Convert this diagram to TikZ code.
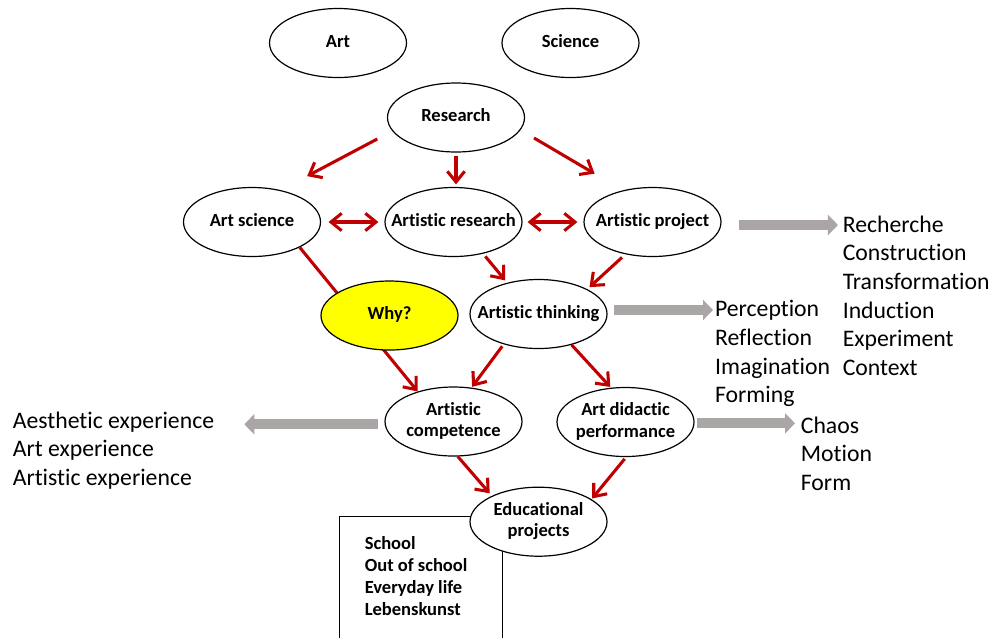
\documentclass[tikz,border=0pt]{standalone}
\usepackage{fontspec}
\setmainfont{Carlito}[Ligatures=NoCommon]
\usetikzlibrary{arrows.meta,shapes.geometric,calc}
\definecolor{darkred}{RGB}{192,0,0}
\definecolor{arrowgray}{RGB}{170,166,166}
\definecolor{whyyellow}{RGB}{255,255,0}
\newcommand{\etext}[1]{\makebox[0pt]{\begin{tabular}{@{}c@{}}#1\end{tabular}}}
\newcommand{\ltext}[1]{\begin{tabular}[t]{@{}l@{}}#1\end{tabular}}
\begin{document}
\begin{tikzpicture}[x=0.75pt,y=-0.75pt,
  ell/.style={ellipse, draw=black, line width=0.9pt, fill=white, minimum width=102.75pt, minimum height=51.75pt, inner sep=0pt, font=\bfseries\fontsize{13.9}{16.2}\selectfont},
  redarrow/.style={draw=darkred, line width=2.3pt, -{Straight Barb[length=8pt,width=13pt]}},
  redboth/.style={draw=darkred, line width=2.3pt, {Straight Barb[length=8pt,width=13pt]}-{Straight Barb[length=8pt,width=13pt]}},
  grayarrow/.style={draw=arrowgray, line width=7.5pt, -{Triangle[length=7.5pt,width=15pt]}},
  listtext/.style={font=\fontsize{17.8}{21.5}\selectfont, inner sep=0pt, anchor=base west},
]
\useasboundingbox (0,0) rectangle (995,637);

% box behind educational projects
\node[draw=black, line width=0.9pt, anchor=north west, minimum width=122.25pt, minimum height=99pt, inner sep=0pt] (box) at (339,516) {};
\node[anchor=base west, inner sep=0pt, font=\bfseries\fontsize{13.9}{16.6}\selectfont] (boxtext) at (364.5,549.3) {\ltext{School\\Out of school\\Everyday life\\Lebenskunst}};

% ellipses
\node[ell] (art) at (338,43) {\etext{Art}};
\node[ell] (science) at (570.5,43) {\etext{Science}};
\node[ell] (research) at (456,117.5) {\etext{Research}};
\node[ell] (artsci) at (252,222) {\etext{Art science}};
\node[ell] (artres) at (453.5,222) {\etext{Artistic research}};
\node[ell] (project) at (652.5,222) {\etext{Artistic project}};
\node[ell] (thinking) at (538.5,314) {\etext{Artistic thinking}};
\node[ell] (competence) at (453.5,421.5) {\etext{Artistic\\competence}};
\node[ell] (didactic) at (625.5,422) {\etext{Art didactic\\performance}};
\node[ell] (edu) at (538.5,521.7) {\etext{Educational\\projects}};

% text lists
\node[listtext] (list1) at (842.5,232.3) {\ltext{Recherche\\Construction\\Transformation\\Induction\\Experiment\\Context}};
\node[listtext] (list2) at (714.8,316.7) {\ltext{Perception\\Reflection\\Imagination\\Forming}};
\node[listtext] (list3) at (800.6,433.3) {\ltext{Chaos\\Motion\\Form}};
\node[listtext] (list4) at (12.5,428.3) {\ltext{Aesthetic experience\\Art experience\\Artistic experience}};

% red connectors
\draw[redarrow, shorten <=12.7pt, shorten >=22.4pt] (research.192.5) -- (artsci.48.2);
\draw[redarrow, shorten <=2.25pt, shorten >=1.9pt] (research.south) -- (research.south |- artres.north);
\draw[redarrow, shorten <=11.7pt, shorten >=24.6pt] (research.349.7) -- (project.133.4);
\draw[redboth, shorten <=5.6pt, shorten >=4.5pt] (artsci.east) -- (artres.west);
\draw[redboth, shorten <=3.75pt, shorten >=4.5pt] (artres.east) -- (project.west);
\draw[redarrow] (artsci.332.8) -- (competence.140.2);
\draw[redarrow, shorten <=2.6pt, shorten >=2.3pt] (artres.313.2) -- (thinking.135.9);
\draw[redarrow, shorten <=3.5pt, shorten >=2.25pt] (project.230.9) -- (thinking.27.9);
\draw[redarrow, shorten <=1.8pt, shorten >=0.75pt] (thinking.221.7) -- (competence.62.2);
\draw[redarrow, shorten >=0.75pt] (thinking.317.9) -- (didactic.113.5);
\draw[redarrow, shorten >=2.5pt] (competence.277.8) -- (edu.151.6);
\draw[redarrow, shorten <=1.7pt, shorten >=0.75pt] (didactic.271.7) -- (edu.23.3);

% Why? on top of the through-line
\node[ell, fill=whyyellow] (why) at (389.5,315.5) {\etext{Why?}};

% gray arrows
\coordinate (g1) at ($(project.east)+(0,3)$);
\coordinate (g2) at ($(thinking.east)+(0,-4)$);
\coordinate (g3) at ($(didactic.east)+(0,1.3)$);
\coordinate (g4) at ($(competence.west)+(0,2.8)$);
\draw[grayarrow, shorten <=12.75pt, shorten >=3.4pt] (g1) -- (g1 -| list1.west);
\draw[grayarrow, shorten <=4.5pt, shorten >=1.35pt] (g2) -- (g2 -| list2.west);
\draw[grayarrow, shorten <=2pt, shorten >=4.2pt] (g3) -- (g3 -| list3.west);
\draw[grayarrow, shorten <=5pt, shorten >=22.5pt] (g4) -- (g4 -| list4.east);
\end{tikzpicture}
\end{document}
